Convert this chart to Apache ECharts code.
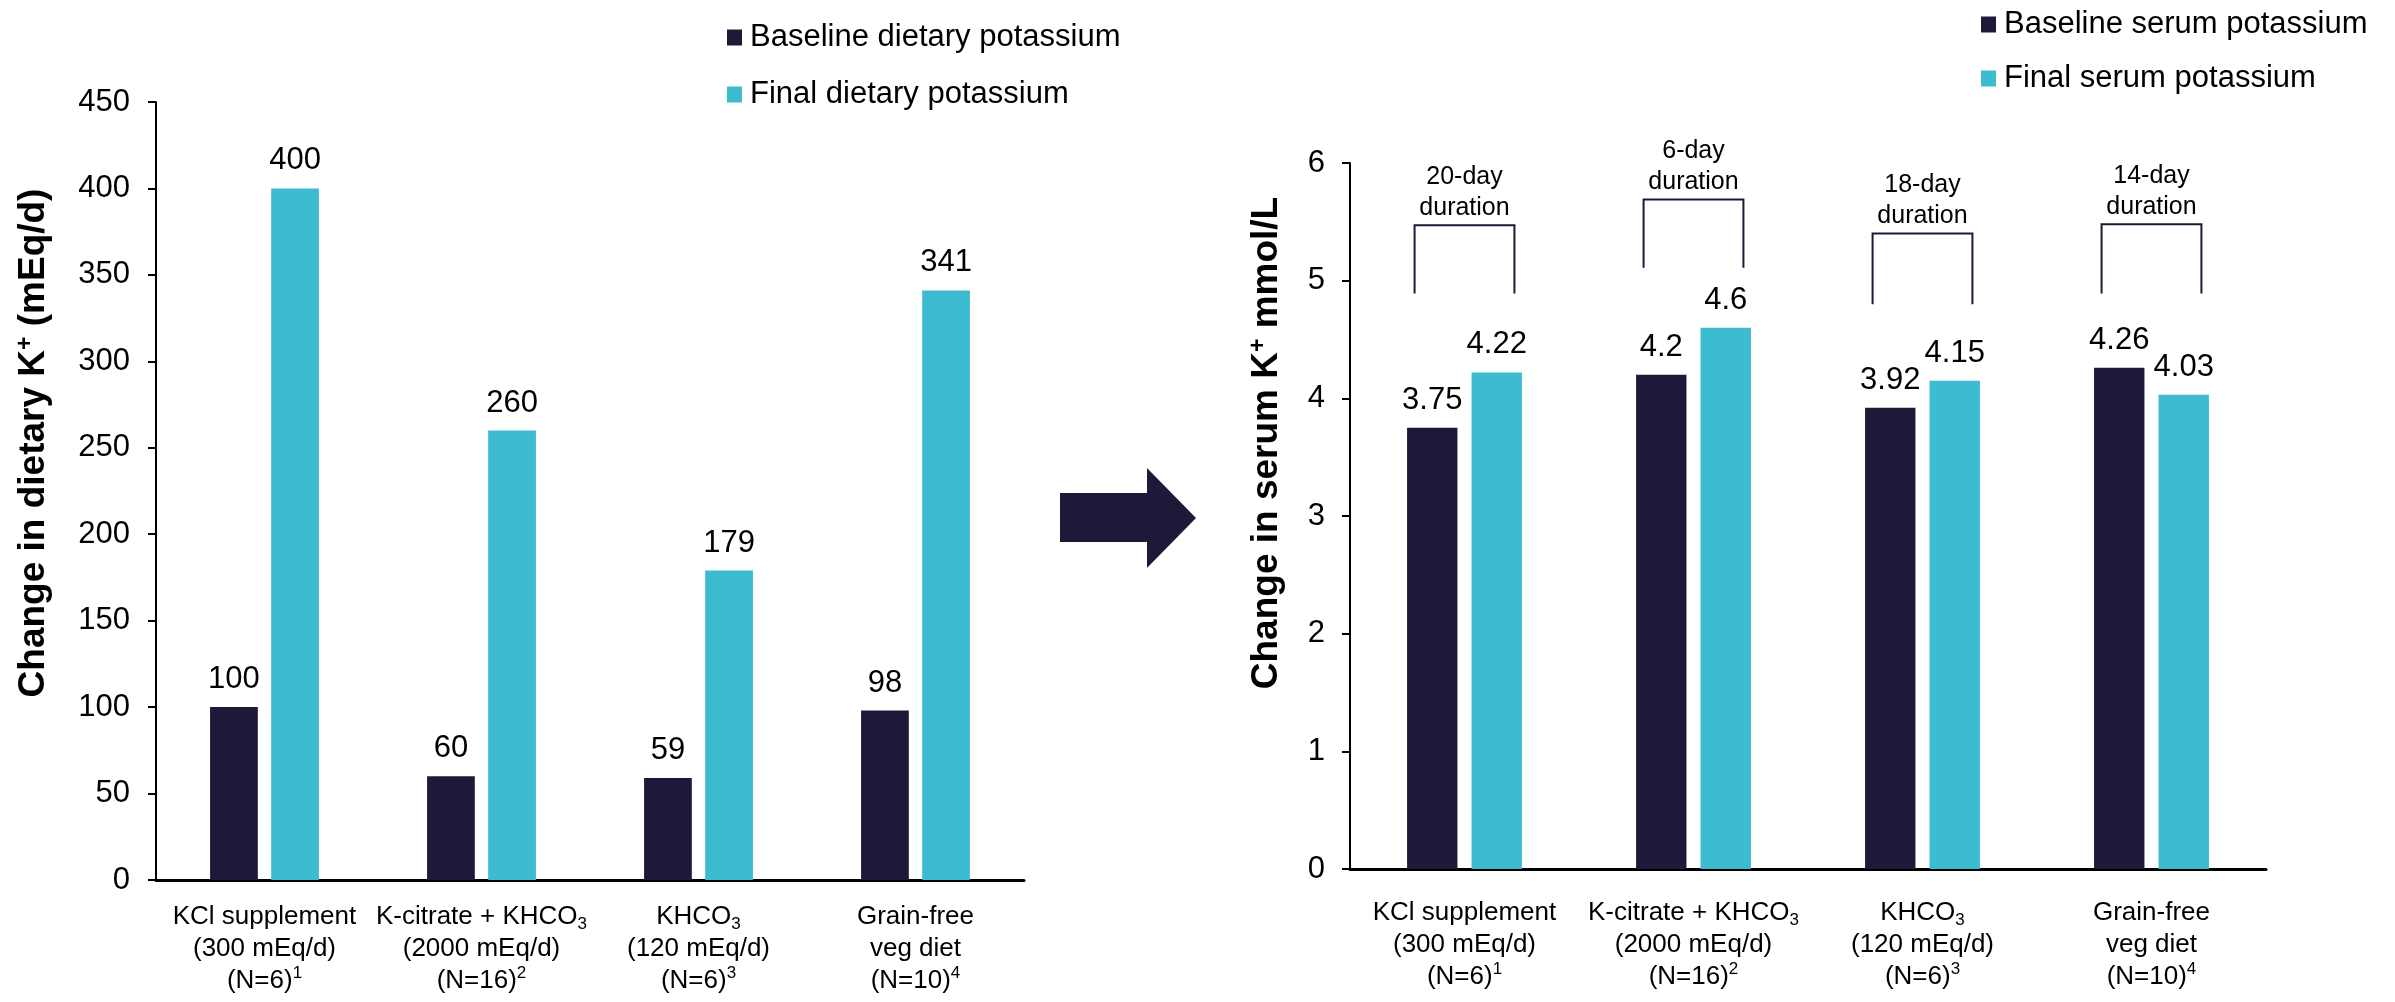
<!DOCTYPE html>
<html>
<head>
	<meta charset="utf-8">
	<title>Dietary and serum potassium</title>
	<script src="https://cdn.jsdelivr.net/npm/echarts@6/dist/echarts.min.js"></script>
	<style>
		html, body { margin: 0; padding: 0; background: #fff; }
		#chart { width: 2395px; height: 1002px; }
	</style>
</head>
<body>
<div id="chart"></div>
<script>
// categories (rich text for sub/superscripts)
var categories = [
    'KCl supplement\n(300 mEq/d)\n(N=6){sup|1}',
    'K-citrate + KHCO{sub|3}\n(2000 mEq/d)\n(N=16){sup|2}',
    'KHCO{sub|3}\n(120 mEq/d)\n(N=6){sup|3}',
    'Grain-free\nveg diet\n(N=10){sup|4}'
];
// dietary potassium, mEq/d
var dietBaseline = [100, 60, 59, 98];
var dietFinal = [400, 260, 179, 341];
// serum potassium, mmol/L
var serumBaseline = [3.75, 4.2, 3.92, 4.26];
var serumFinal = [4.22, 4.6, 4.15, 4.03];
// duration brackets over the serum chart
var durations = ['20-day', '6-day', '18-day', '14-day'];
var bracketTop = [5.47, 5.69, 5.40, 5.48];
var bracketBottom = [4.89, 5.11, 4.80, 4.89];

var DARK = '#1d1a39';
var LIGHT = '#3cbbd1';
var FONT = 'Liberation Sans, Arial, sans-serif';

var chart = echarts.init(document.getElementById('chart'));

var richLabel = {
    sub: { fontSize: 17, lineHeight: 11, verticalAlign: 'bottom', fontFamily: FONT, color: '#000' },
    sup: { fontSize: 17, lineHeight: 22, verticalAlign: 'top', fontFamily: FONT, color: '#000' }
};
var richTitle = {
    sup: { fontSize: 23, fontWeight: 'bold', lineHeight: 28, verticalAlign: 'top', fontFamily: FONT, fill: '#000' }
};

function catAxis(idx, margin) {
    return {
        type: 'category', gridIndex: idx, data: categories,
        axisLine: { show: true, lineStyle: { color: '#000', width: 3 } },
        axisTick: { show: false },
        axisLabel: {
            interval: 0, margin: margin, color: '#000', fontSize: 26, lineHeight: 32,
            fontFamily: FONT, rich: richLabel
        },
        splitLine: { show: false }
    };
}
function valAxis(idx, max, interval, margin) {
    return {
        type: 'value', gridIndex: idx, min: 0, max: max, interval: interval,
        axisLine: { show: true, lineStyle: { color: '#000', width: 2 } },
        axisTick: { show: true, length: 8, lineStyle: { color: '#000', width: 2 } },
        axisLabel: { color: '#000', fontSize: 31, fontFamily: FONT, margin: margin },
        splitLine: { show: false }
    };
}
function barSeries(name, data, color, ax) {
    return {
        name: name, type: 'bar', xAxisIndex: ax, yAxisIndex: ax, data: data,
        barWidth: '22%', barGap: '28%',
        itemStyle: { color: color },
        label: { show: true, position: 'top', distance: 12, color: '#000', fontSize: 31, fontFamily: FONT },
        emphasis: { disabled: true }
    };
}
function yTitle(x, y, text) {
    return {
        type: 'text', x: x, y: y, rotation: Math.PI / 2,
        style: {
            text: text, fontSize: 37, fontWeight: 'bold', lineHeight: 40, fontFamily: FONT,
            fill: '#000', align: 'center', verticalAlign: 'middle', rich: richTitle
        }
    };
}

var option = {
    animation: false,
    backgroundColor: '#fff',
    grid: [
        { left: 156, right: 1371, top: 102, bottom: 122 },
        { left: 1350, right: 129, top: 163, bottom: 133 }
    ],
    xAxis: [catAxis(0, 21), catAxis(1, 28)],
    yAxis: [valAxis(0, 450, 50, 26), valAxis(1, 6, 1, 25)],
    legend: [{
        data: ['Baseline dietary potassium', 'Final dietary potassium'],
        orient: 'vertical', left: 722, top: 17, itemGap: 26,
        icon: 'rect', itemWidth: 15, itemHeight: 16,
        textStyle: { fontSize: 31, color: '#000', fontFamily: FONT, padding: [0, 0, 0, 3] }
    }, {
        data: ['Baseline serum potassium', 'Final serum potassium'],
        orient: 'vertical', left: 1976, top: 4, itemGap: 23,
        icon: 'rect', itemWidth: 15, itemHeight: 16,
        textStyle: { fontSize: 31, color: '#000', fontFamily: FONT, padding: [0, 0, 0, 3] }
    }],
    series: [
        barSeries('Baseline dietary potassium', dietBaseline, DARK, 0),
        barSeries('Final dietary potassium', dietFinal, LIGHT, 0),
        barSeries('Baseline serum potassium', serumBaseline, DARK, 1),
        barSeries('Final serum potassium', serumFinal, LIGHT, 1),
        {
            type: 'custom', xAxisIndex: 1, yAxisIndex: 1, silent: true,
            data: durations.map(function (d, i) { return [i, bracketTop[i], bracketBottom[i]]; }),
            renderItem: function (params, api) {
                var top = api.coord([api.value(0), api.value(1)]);
                var bot = api.coord([api.value(0), api.value(2)]);
                var half = api.size([1, 0])[0] * 0.218;
                return {
                    type: 'group',
                    children: [{
                        type: 'polyline',
                        shape: { points: [[top[0] - half, bot[1]], [top[0] - half, top[1]], [top[0] + half, top[1]], [top[0] + half, bot[1]]] },
                        style: { stroke: DARK, lineWidth: 2, fill: null }
                    }, {
                        type: 'text', x: top[0], y: top[1] - 2,
                        style: {
                            text: durations[params.dataIndex] + '\nduration',
                            fontSize: 25, lineHeight: 31, fontFamily: FONT, fill: '#000',
                            align: 'center', verticalAlign: 'bottom'
                        }
                    }]
                };
            }
        }
    ],
    graphic: [
        yTitle(34, 443, 'Change in dietary K{sup|+} (mEq/d)'),
        yTitle(1267, 443, 'Change in serum K{sup|+} mmol/L'),
        {
            // arrow between the two panels
            type: 'polygon',
            shape: { points: [[1060, 493], [1147, 493], [1147, 468], [1196, 518], [1147, 568], [1147, 542], [1060, 542]] },
            style: { fill: DARK }
        }
    ]
};
chart.setOption(option);
</script>
</body>
</html>
